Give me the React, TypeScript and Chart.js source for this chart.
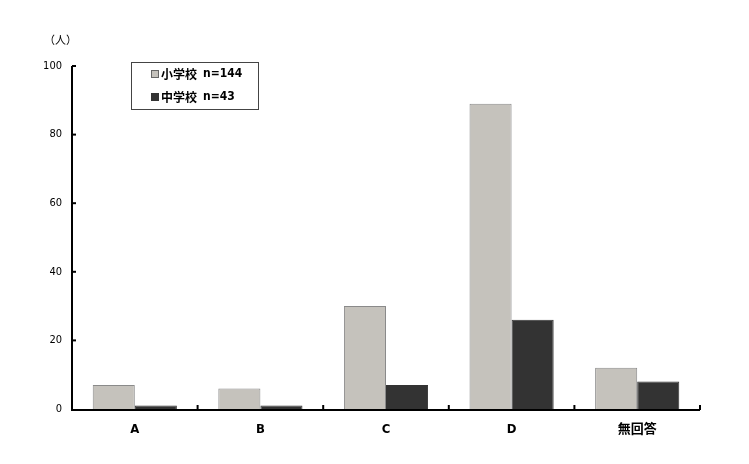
import React, { useEffect, useRef } from "react";
import { Chart, registerables } from "chart.js";

Chart.register(...registerables);

const categories = ["A", "B", "C", "D", "無回答"];
const elementary = [7, 6, 30, 89, 12];
const juniorHigh = [1, 1, 7, 26, 8];
const seriesNames = ["小学校", "中学校"];
const seriesCounts = ["n=144", "n=43"];
const yTicks = [0, 20, 40, 60, 80, 100];
const unitLabel = "（人）";

const FONT = "'DejaVu Sans Condensed', 'Noto Sans CJK JP', sans-serif";
const GRAY = "#c5c2bc";
const DARK = "#333333";

const decor = {
  id: "decor",
  afterDraw(chart: any) {
    const ctx = chart.ctx;
    const x = chart.scales.x;
    const y = chart.scales.y;
    const area = chart.chartArea;
    ctx.save();
    ctx.strokeStyle = "#000";
    ctx.lineWidth = 2;
    const base = y.getPixelForValue(0) + 1;
    ctx.beginPath();
    ctx.moveTo(area.left, y.getPixelForValue(100));
    ctx.lineTo(area.left, base);
    ctx.lineTo(area.right, base);
    ctx.stroke();
    for (const v of yTicks) {
      if (v === 0) continue;
      const py = y.getPixelForValue(v);
      ctx.beginPath();
      ctx.moveTo(area.left, py);
      ctx.lineTo(area.left + 4, py);
      ctx.stroke();
    }
    const n = categories.length;
    const step = x.getPixelForValue(1) - x.getPixelForValue(0);
    for (let i = 0; i < n; i++) {
      const px = x.getPixelForValue(i) + step / 2;
      ctx.beginPath();
      ctx.moveTo(px, base);
      ctx.lineTo(px, base - 5);
      ctx.stroke();
    }
    ctx.fillStyle = "#000";
    ctx.font = "11px 'Noto Sans CJK JP', sans-serif";
    ctx.textAlign = "left";
    ctx.textBaseline = "middle";
    ctx.fillText(unitLabel, 44, 40);
    const lx = 131, ly = 62, lw = 127, lh = 47;
    ctx.fillStyle = "#fff";
    ctx.fillRect(lx, ly, lw, lh);
    ctx.lineWidth = 1;
    ctx.strokeStyle = "#444";
    ctx.strokeRect(lx + 0.5, ly + 0.5, lw, lh);
    const colors = [GRAY, DARK];
    const rows = [74, 97];
    for (let i = 0; i < 2; i++) {
      const ry = rows[i];
      ctx.fillStyle = colors[i];
      ctx.fillRect(151, ry - 4, 8, 8);
      ctx.strokeStyle = i === 0 ? "#666" : DARK;
      ctx.strokeRect(151.5, ry - 3.5, 7, 7);
      ctx.fillStyle = "#000";
      ctx.font = "bold 12px 'Noto Sans CJK JP', sans-serif";
      ctx.fillText(seriesNames[i], 161, ry);
      ctx.font = "bold 12px 'DejaVu Sans Condensed', sans-serif";
      ctx.fillText(seriesCounts[i], 203, ry);
    }
    ctx.restore();
  },
};

export default function App() {
  const ref = useRef<HTMLCanvasElement>(null);
  useEffect(() => {
    const chart = new Chart(ref.current!, {
      type: "bar",
      data: {
        labels: categories,
        datasets: [
          {
            label: seriesNames[0],
            data: elementary,
            backgroundColor: GRAY,
            borderColor: "#8a8a8a",
            borderWidth: 1,
            barPercentage: 1,
            categoryPercentage: 0.67,
          },
          {
            label: seriesNames[1],
            data: juniorHigh,
            backgroundColor: DARK,
            borderColor: DARK,
            borderWidth: 1,
            barPercentage: 1,
            categoryPercentage: 0.67,
          },
        ],
      },
      options: {
        animation: false,
        responsive: false,
        maintainAspectRatio: false,
        layout: { padding: { top: 66, right: 49, left: 0, bottom: 0 } },
        plugins: { legend: { display: false }, tooltip: { enabled: false } },
        scales: {
          x: {
            grid: { display: false, drawTicks: false },
            border: { display: false },
            ticks: { color: "#000", font: { family: FONT, size: 13, weight: "bold" }, padding: 13 },
            afterFit(scale: any) {
              scale.height = 55;
            },
          },
          y: {
            min: 0,
            max: 100,
            grid: { display: false, drawTicks: false },
            border: { display: false },
            ticks: {
              stepSize: 20,
              color: "#000",
              font: { family: FONT, size: 11 },
              padding: 10,
            },
            afterFit(scale: any) {
              scale.width = 72;
            },
          },
        },
      },
      plugins: [decor],
    });
    return () => chart.destroy();
  }, []);
  return (
    <div style={{ position: "fixed", left: 0, top: 0, width: 749, height: 464, background: "#fff" }}>
      <canvas ref={ref} width={749} height={464} style={{ width: 749, height: 464 }} />
    </div>
  );
}
